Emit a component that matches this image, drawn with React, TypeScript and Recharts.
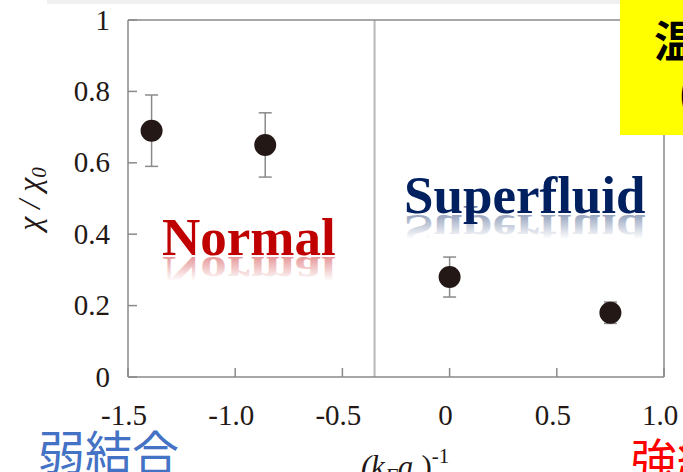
import React from "react";
import { ScatterChart, Scatter, XAxis, YAxis, ErrorBar, ReferenceLine } from "recharts";

// (k_F a_s)^-1 vs chi/chi0
const couplingX = [-1.39, -0.86, 0.0, 0.75];
const chiRatio = [0.69, 0.65, 0.28, 0.18];
const chiError = [0.1, 0.09, 0.056, 0.03];

const xTicks = [-1.5, -1.0, -0.5, 0, 0.5, 1.0];
const xTickLabels = ["-1.5", "-1.0", "-0.5", "0", "0.5", "1.0"];
const yTicks = [0, 0.2, 0.4, 0.6, 0.8, 1];
const yTickLabels = ["0", "0.2", "0.4", "0.6", "0.8", "1"];
const phaseBoundary = -0.35;

const points = couplingX.map((x, i) => ({ x, y: chiRatio[i], err: chiError[i] }));

const AXIS = "#8a8a8a";
const SERIF = "'Liberation Serif', 'DejaVu Serif', serif";
const CJK = "'Noto Sans CJK JP', 'Noto Sans CJK SC', sans-serif";
const tickText = { fontFamily: SERIF, fontSize: 29, fill: "#231815" };

function LeftTick(props: any) {
  const { x, y, payload } = props;
  return (
    <g>
      <line x1={x} y1={y} x2={x + 9} y2={y} stroke={AXIS} strokeWidth={1.5} />
      <text x={x - 18} y={y} dy="0.33em" textAnchor="end" {...tickText}>
        {yTickLabels[yTicks.indexOf(payload.value)]}
      </text>
    </g>
  );
}

function BottomTick(props: any) {
  const { x, y, payload } = props;
  return (
    <g>
      <line x1={x} y1={y} x2={x} y2={y - 9} stroke={AXIS} strokeWidth={1.5} />
      <text x={x - 4} y={y + 48} textAnchor="middle" {...tickText}>
        {xTickLabels[xTicks.indexOf(payload.value)]}
      </text>
    </g>
  );
}

function RightTick(props: any) {
  const { x, y } = props;
  return <line x1={x - 9} y1={y} x2={x} y2={y} stroke={AXIS} strokeWidth={1.5} />;
}

function TopTick(props: any) {
  const { x, y } = props;
  return <line x1={x} y1={y} x2={x} y2={y + 9} stroke={AXIS} strokeWidth={1.5} />;
}

function Dot(props: any) {
  const { cx, cy } = props;
  return <circle cx={cx} cy={cy} r={11} fill="#231815" />;
}

function ReflectedWord({ text, x, y, size, color, id }: { text: string; x: number; y: number; size: number; color: string; id: string }) {
  return (
    <g>
      <defs>
        <linearGradient id={id} x1="0" y1="0" x2="0" y2="1">
          <stop offset="0.3" stopColor={color} stopOpacity={0} />
          <stop offset="1" stopColor={color} stopOpacity={0.55} />
        </linearGradient>
      </defs>
      <text x={x} y={y} fontFamily={SERIF} fontWeight="bold" fontSize={size} fill={color}>
        {text}
      </text>
      <g transform={`translate(0 ${y + 2}) scale(1 -0.8)`}>
        <text x={x} y={0} fontFamily={SERIF} fontWeight="bold" fontSize={size} fill={`url(#${id})`}>
          {text}
        </text>
      </g>
    </g>
  );
}

export default function App() {
  return (
    <div style={{ position: "fixed", left: 0, top: 0, width: 683, height: 472, overflow: "hidden", background: "#fff" }}>
      <ScatterChart width={683} height={472} margin={{ top: 0, right: 0, bottom: 0, left: 0 }}>
        <XAxis
          type="number"
          dataKey="x"
          domain={[-1.5, 1.0]}
          ticks={xTicks}
          height={95}
          axisLine={{ stroke: AXIS, strokeWidth: 1.5 }}
          tickLine={false}
          tickSize={0}
          tickMargin={0}
          tick={<BottomTick />}
          interval={0}
        />
        <XAxis
          xAxisId="top"
          orientation="top"
          type="number"
          domain={[-1.5, 1.0]}
          ticks={xTicks}
          height={20}
          axisLine={{ stroke: AXIS, strokeWidth: 1.5 }}
          tickLine={false}
          tickSize={0}
          tickMargin={0}
          tick={<TopTick />}
          interval={0}
        />
        <YAxis
          type="number"
          dataKey="y"
          domain={[0, 1]}
          ticks={yTicks}
          width={128}
          axisLine={{ stroke: AXIS, strokeWidth: 1.5 }}
          tickLine={false}
          tickSize={0}
          tickMargin={0}
          tick={<LeftTick />}
          interval={0}
        />
        <YAxis
          yAxisId="right"
          orientation="right"
          type="number"
          domain={[0, 1]}
          ticks={yTicks}
          width={19}
          axisLine={{ stroke: AXIS, strokeWidth: 1.5 }}
          tickLine={false}
          tickSize={0}
          tickMargin={0}
          tick={<RightTick />}
          interval={0}
        />
        <ReferenceLine x={phaseBoundary} stroke="#b8b8b8" strokeWidth={2} />
        <Scatter data={points} shape={<Dot />} isAnimationActive={false}>
          <ErrorBar dataKey="err" direction="y" width={6.5} stroke="#8a8a8a" strokeWidth={1.5} />
        </Scatter>
      </ScatterChart>

      <svg width={683} height={472} style={{ position: "absolute", left: 0, top: 0, pointerEvents: "none" }}>
        <rect x={47} y={0} width={573} height={4} fill="#f0f0f0" />

        <text transform="translate(40 199) rotate(-90)" textAnchor="middle" fontFamily={SERIF} fontStyle="italic" fontSize={32} fill="#231815">
          χ / χ
          <tspan fontSize={21} dy={6}>0</tspan>
        </text>

        <text x={405} y={477} textAnchor="middle" fontFamily={SERIF} fontStyle="italic" fontSize={31} fill="#231815">
          (k<tspan fontSize={21} dy={6}>F</tspan>
          <tspan dy={-6}>a</tspan>
          <tspan fontSize={21} dy={6}>s</tspan>
          <tspan fontStyle="normal" dy={-6}>)</tspan>
          <tspan fontStyle="normal" fontSize={21} dy={-14}>-1</tspan>
        </text>

        <ReflectedWord text="Normal" x={162} y={255} size={53} color="#c00000" id="refNormal" />
        <ReflectedWord text="Superfluid" x={404} y={213} size={53} color="#002060" id="refSuper" />

        <rect x={620} y={0} width={70} height={135} fill="#ffff00" />
        <text x={654} y={58} fontFamily={CJK} fontWeight="bold" fontSize={44} fill="#000">温度</text>
        <text x={678} y={110} fontFamily={CJK} fontWeight="bold" fontSize={44} fill="#000">(</text>

        <text x={38} y={470} fontFamily={CJK} fontSize={47} fill="#4472c4">弱結合</text>
        <text x={631} y={477} fontFamily={CJK} fontSize={46} fill="#ff0000">強結合</text>
      </svg>
    </div>
  );
}
